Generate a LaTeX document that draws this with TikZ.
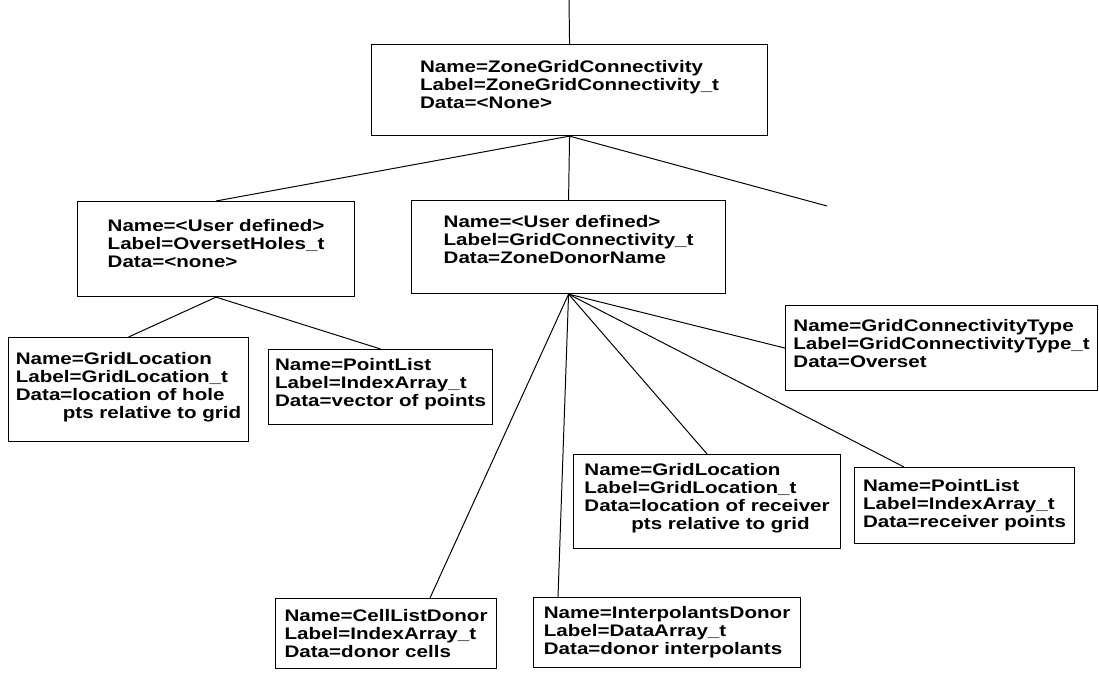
\documentclass[tikz,border=0pt]{standalone}
\usepackage{fontspec}
\setmainfont{Liberation Sans}[FakeStretch=1.23]
\tikzset{
	box/.style={draw, line width=0.8pt, anchor=north west, align=left, inner xsep=3pt, inner ysep=2pt, font=\fontsize{11.9}{12.8}\selectfont\bfseries},
	lift/.style={text depth=#1},
	link/.style={line width=0.7pt}
}

\begin{document}
\begin{tikzpicture}
			%%%%% START %%%%%
			
			\useasboundingbox (0, 0) rectangle (27.475, -17);
			
			\node[box, lift=0.3cm, minimum width=9.9cm, minimum height=2.275cm] (root) at (9.275, -1.1) {Name=ZoneGridConnectivity\\Label=ZoneGridConnectivity\_t\\Data=<None>};
			
			\node[box, lift=0.3cm, minimum width=6.925cm, minimum height=2.375cm] (ohole) at (1.925, -5.025) {Name=<User defined>\\Label=OversetHoles\_t\\Data=<none>};
			\node[box, lift=0.4cm, minimum width=7.85cm, minimum height=2.325cm] (gconn) at (10.275, -5.0) {Name=<User defined>\\Label=GridConnectivity\_t\\Data=ZoneDonorName};
			
			\node[box, lift=0.19cm, minimum width=6cm, minimum height=2.6cm] (gloc1) at (0.2, -8.425) {Name=GridLocation\\Label=GridLocation\_t\\Data=location of hole\\\hspace*{1.175cm}pts relative to grid};
			\node[box, lift=0.24cm, minimum width=5.6cm, minimum height=1.875cm] (plist1) at (6.7, -8.725) {Name=PointList\\Label=IndexArray\_t\\Data=vector of points};
			
			\node[box, lift=0.25cm, minimum width=7.8cm, minimum height=2.125cm] (ctype) at (19.625, -7.625) {Name=GridConnectivityType\\Label=GridConnectivityType\_t\\Data=Overset};
			\node[box, lift=0.24cm, minimum width=6.675cm, minimum height=2.35cm] (gloc2) at (14.325, -11.35) {Name=GridLocation\\Label=GridLocation\_t\\Data=location of receiver\\\hspace*{1.175cm}pts relative to grid};
			\node[box, minimum width=5.5cm, minimum height=1.9cm] (plist2) at (21.35, -11.675) {Name=PointList\\Label=IndexArray\_t\\Data=receiver points};
			
			\node[box, minimum width=5.525cm, minimum height=1.75cm] (celld) at (6.875, -14.95) {Name=CellListDonor\\Label=IndexArray\_t\\Data=donor cells};
			\node[box, minimum width=6.675cm, minimum height=1.75cm] (interp) at (13.325, -14.925) {Name=InterpolantsDonor\\Label=DataArray\_t\\Data=donor interpolants};
			
			\coordinate (top) at (14.225, 0);
			\coordinate (free) at (20.675, -5.15);
			
			\draw[link] (top) -- (root.north);
			\draw[link] (root.south) -- (ohole.north);
			\draw[link] (root.south) -- (gconn.north);
			\draw[link] (root.south) -- (free);
			
			\draw[link] (ohole.south) -- (gloc1.north);
			\draw[link] (ohole.south) -- (plist1.north);
			
			\draw[link] (gconn.south) -- (ctype.west);
			\draw[link] (gconn.south) -- (gloc2.north);
			\draw[link] (gconn.south) -- ([xshift=1.25cm]plist2.north west);
			\draw[link] (gconn.south) -- ([xshift=0.625cm]interp.north west);
			\draw[link] (gconn.south) -- ([xshift=3.875cm]celld.north west);
			
			%%%%% END %%%%%
\end{tikzpicture}
\end{document}
